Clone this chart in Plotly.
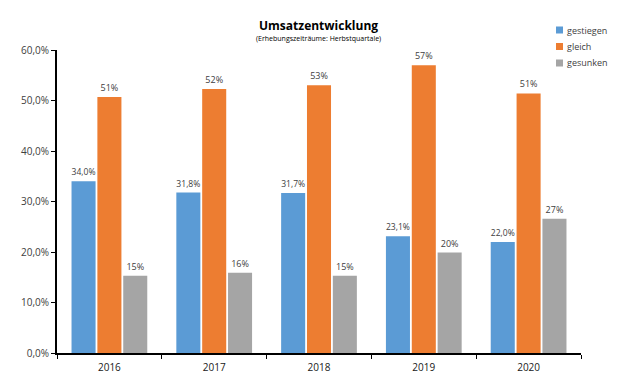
import plotly.graph_objects as go

years = ["2016", "2017", "2018", "2019", "2020"]
gestiegen = [0.340, 0.318, 0.317, 0.231, 0.220]
gleich = [0.507, 0.523, 0.530, 0.570, 0.514]
gesunken = [0.153, 0.159, 0.153, 0.199, 0.266]
y_ticks = [0, 0.1, 0.2, 0.3, 0.4, 0.5, 0.6]
series_names = ["gestiegen", "gleich", "gesunken"]
colors = ["#5B9BD5", "#ED7D31", "#A5A5A5"]

FONT = "Open Sans, Liberation Sans, sans-serif"
lab_font = dict(family=FONT, size=9, color="#404040")

# page offset of the browser body margin (8px) is absorbed by a slightly smaller figure
W, H = 632, 379
PL, PT, PR, PB = 49, 42, 59, 34
pw, ph = W - PL - PR, H - PT - PB


def px(xp):  # page x -> paper
    return (xp - 8 - PL) / pw


def py(yp):  # page y -> paper
    return (H - PB - (yp - 8)) / ph


fig = go.Figure()
for name, vals, col, tpl in zip(series_names, [gestiegen, gleich, gesunken], colors,
                                ["%{y:.1%}", "%{y:.0%}", "%{y:.0%}"]):
    fig.add_trace(go.Bar(name=name, x=years, y=vals, marker_color=col,
                         texttemplate=tpl, textposition="outside", textfont=lab_font,
                         showlegend=False, cliponaxis=False, marker_line_width=0))

shapes = []
annotations = [
    dict(text="<b>Umsatzentwicklung</b>", x=px(318), y=py(25), yanchor="middle",
         xref="paper", yref="paper", showarrow=False,
         font=dict(family=FONT, size=12, color="#000000")),
    dict(text="(Erhebungszeiträume: Herbstquartale)", xref="paper", yref="paper",
         x=px(318), y=py(39), yanchor="middle", showarrow=False,
         font=dict(family=FONT, size=7, color="#000000")),
]
for i, (name, col) in enumerate(zip(series_names, colors)):
    yc = 30 + i * 16.5
    shapes.append(dict(type="rect", xref="paper", yref="paper",
                       x0=px(556), x1=px(563), y0=py(yc + 3.5), y1=py(yc - 3.5),
                       fillcolor=col, line_width=0))
    annotations.append(dict(text=name, xref="paper", yref="paper", x=px(565), y=py(yc),
                            xanchor="left", yanchor="middle", showarrow=False,
                            font=dict(family=FONT, size=9, color="#404040")))

fig.update_layout(
    width=W, height=H,
    margin=dict(l=PL, r=PR, t=PT, b=PB, autoexpand=False),
    paper_bgcolor="white", plot_bgcolor="white",
    separators=", ",
    barmode="group", bargap=0.26, bargroupgap=0.07,
    font=dict(family=FONT, size=10, color="#404040"),
    showlegend=False,
    shapes=shapes,
    annotations=annotations,
)

fig.update_yaxes(range=[0, 0.6], tickvals=y_ticks, tickformat=".1%", showgrid=False,
                 showline=True, linecolor="black", linewidth=2, ticks="outside",
                 ticklen=4, tickwidth=1, tickcolor="black", zeroline=False,
                 tickfont=dict(family=FONT, size=10, color="#404040"))
fig.update_xaxes(showline=True, linecolor="black", linewidth=2, showgrid=False,
                 ticks="outside", tickson="boundaries", ticklen=4, tickwidth=1,
                 tickcolor="black", ticklabelstandoff=4,
                 tickfont=dict(family=FONT, size=10, color="#202020"))

fig.write_html("out.html")
